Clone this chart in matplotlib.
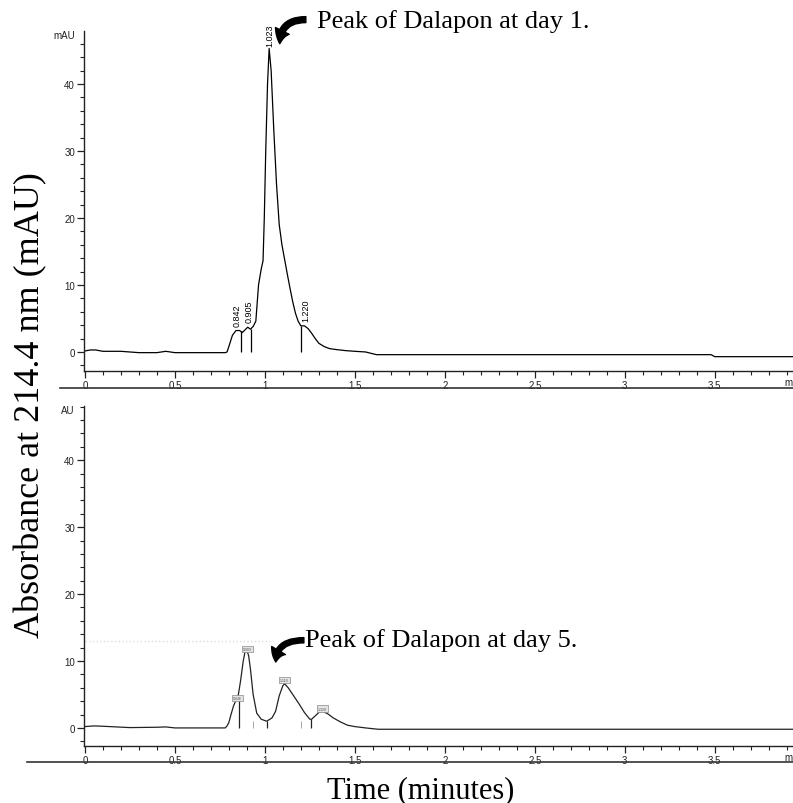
import matplotlib
matplotlib.use("Agg")
import matplotlib.pyplot as plt
from matplotlib.patches import FancyArrowPatch
from matplotlib.lines import Line2D
from matplotlib.ticker import MultipleLocator

# DATEN

# Tag 1 (oben)
zeit1 = [0.00, 0.03, 0.06, 0.10, 0.20, 0.30, 0.40, 0.45, 0.50, 0.60, 0.70, 0.78, 0.79,
         0.80, 0.82, 0.84, 0.86, 0.875, 0.89, 0.905, 0.92, 0.935, 0.95, 0.965, 0.98,
         0.99, 0.997, 1.005, 1.015, 1.024, 1.035, 1.05, 1.065, 1.08, 1.095, 1.11, 1.125,
         1.14, 1.155, 1.17, 1.185, 1.20, 1.22, 1.24, 1.26, 1.28, 1.30, 1.33, 1.36, 1.40,
         1.45, 1.50, 1.56, 1.62, 2.0, 2.5, 3.0, 3.48, 3.50, 3.94]
signal1 = [0.15, 0.3, 0.3, 0.1, 0.1, -0.1, -0.1, 0.1, -0.1, -0.1, -0.1, -0.1, 0.0,
           0.8, 2.5, 3.2, 3.2, 2.9, 3.3, 3.7, 3.4, 3.8, 4.6, 10.0, 12.4,
           13.6, 20.0, 30.0, 40.0, 45.3, 42.0, 33.0, 25.0, 19.0, 16.0, 13.8, 11.6,
           9.5, 7.5, 5.8, 4.6, 3.9, 3.9, 3.5, 2.8, 2.0, 1.3, 0.8, 0.5, 0.35,
           0.2, 0.1, 0.0, -0.4, -0.4, -0.4, -0.4, -0.4, -0.7, -0.7]
peaks1_t = [0.847, 0.914, 1.025, 1.228]
peaks1_v = [3.9, 4.5, 45.7, 4.6]
peaks1_lab = ["0.842", "0.905", "1.023", "1.220"]
drop1_t = [0.868, 0.925, 1.20]
drop1_v = [3.2, 3.5, 3.9]

# Tag 5 (unten)
zeit5 = [0.00, 0.05, 0.10, 0.25, 0.40, 0.45, 0.50, 0.70, 0.78, 0.79, 0.80, 0.81, 0.825,
         0.84, 0.85, 0.865, 0.88, 0.89, 0.90, 0.91, 0.92, 0.935, 0.955, 0.98, 1.01, 1.04,
         1.06, 1.08, 1.10, 1.11, 1.13, 1.16, 1.19, 1.22, 1.25, 1.26, 1.28, 1.30, 1.32,
         1.35, 1.38, 1.42, 1.46, 1.50, 1.56, 1.63, 2.0, 3.0, 3.94]
signal5 = [0.2, 0.3, 0.25, 0.05, 0.1, 0.15, 0.0, 0.0, 0.0, 0.3, 0.8, 1.8, 3.2,
           4.2, 4.5, 7.0, 10.0, 11.4, 11.6, 10.8, 8.8, 5.0, 2.2, 1.3, 1.0, 1.5,
           2.5, 4.8, 6.3, 6.6, 6.0, 4.8, 3.6, 2.3, 1.3, 1.3, 1.8, 2.3, 2.5,
           2.1, 1.5, 0.9, 0.4, 0.2, 0.0, -0.2, -0.2, -0.2, -0.2]
peaks5_t = [0.848, 0.904, 1.107, 1.32]
peaks5_v = [4.5, 11.8, 7.1, 2.9]
peaks5_lab = ["0.846", "0.903", "1.110", "1.320"]
drop5_t = [0.855, 1.012, 1.258]
drop5_v = [4.3, 1.0, 1.3]
drop5_faint_t = [0.935, 1.20]
drop5_faint_v = [1.0, 1.0]

xticks = [0, 0.5, 1, 1.5, 2, 2.5, 3, 3.5]
xticklabels = ["0", "0.5", "1", "1.5", "2", "2.5", "3", "3.5"]
yticks = [0, 10, 20, 30, 40]

serif = "Liberation Serif"
sans = "Liberation Sans"

fig = plt.figure(figsize=(7.93, 8.04), dpi=100)
ax1 = fig.add_axes([0.1059, 0.5373, 0.8941, 0.4229])
ax2 = fig.add_axes([0.1059, 0.0709, 0.8941, 0.4229])


def achse(ax, ylim, einheit):
    ax.set_xlim(-0.005, 3.935)
    ax.set_ylim(*ylim)
    for s in ["top", "right"]:
        ax.spines[s].set_visible(False)
    for s in ["left", "bottom"]:
        ax.spines[s].set_linewidth(1.0)
        ax.spines[s].set_color("#222222")
    ax.set_xticks(xticks)
    ax.set_xticklabels(xticklabels, fontfamily=sans)
    ax.set_yticks(yticks)
    ax.set_yticklabels([str(y) for y in yticks], fontfamily=sans)
    ax.xaxis.set_minor_locator(MultipleLocator(0.1))
    ax.yaxis.set_minor_locator(MultipleLocator(2))
    ax.tick_params(which="major", direction="out", length=5, width=0.9,
                   labelsize=7, pad=1.5, colors="#222222")
    ax.tick_params(which="minor", direction="out", length=3, width=0.8, colors="#222222")
    # Achsenbeschriftung "m(in)" am rechten Rand, wie im Original abgeschnitten
    ax.text(1.0, -0.033, "m", transform=ax.transAxes, fontsize=7,
            fontfamily=sans, ha="right", va="center", clip_on=False, color="#222222")
    ax.text(-0.055, ylim[1] - 0.6, einheit, fontsize=7, fontfamily=sans, ha="right",
            va="center", clip_on=False, color="#222222")


achse(ax1, (-2.84, 47.9), "mAU")
achse(ax2, (-2.7, 48.1), "AU")

# Tag 1
ax1.plot(zeit1, signal1, color="black", lw=0.9)
ax1.vlines(drop1_t, 0, drop1_v, color="black", lw=0.9)
for t, v, lab in zip(peaks1_t, peaks1_v, peaks1_lab):
    ax1.text(t, v, lab, rotation=90, fontsize=6.5, fontfamily=sans, ha="center",
             va="bottom", clip_on=False)

# Tag 5
ax2.plot([0.0, 1.03], [13.0, 13.0], color="#dcdcdc", lw=1.0, ls=":")
ax2.plot(zeit5, signal5, color="#222222", lw=0.9)
ax2.vlines(drop5_t, 0, drop5_v, color="#222222", lw=0.9)
ax2.vlines(drop5_faint_t, 0, drop5_faint_v, color="#aaaaaa", lw=0.7)
for t, v, lab in zip(peaks5_t, peaks5_v, peaks5_lab):
    ax2.text(t, v, lab, fontsize=2.5, fontfamily=sans, ha="center", va="center",
             color="#555555",
             bbox=dict(boxstyle="square,pad=0.3", fc="#e4e4e4", ec="#888888", lw=0.5))

# Pfeile und Beschriftungen
pfeil1 = FancyArrowPatch((1.228, 49.6), (1.083, 46.0),
                         arrowstyle="simple,head_length=9.4,head_width=11,tail_width=4.3",
                         connectionstyle="angle3,angleA=0,angleB=90",
                         mutation_scale=1, color="black", shrinkA=0, shrinkB=0, clip_on=False)
ax1.add_patch(pfeil1)
ax1.text(1.292, 48.5, "Peak of Dalapon at day 1.", fontsize=19, fontfamily=serif,
         ha="left", va="baseline", clip_on=False)

pfeil5 = FancyArrowPatch((1.217, 13.1), (1.061, 9.85),
                         arrowstyle="simple,head_length=8.5,head_width=11.5,tail_width=3.8",
                         connectionstyle="angle3,angleA=0,angleB=90",
                         mutation_scale=1, color="black", shrinkA=0, shrinkB=0, clip_on=False)
ax2.add_patch(pfeil5)
ax2.text(1.222, 12.2, "Peak of Dalapon at day 5.", fontsize=19, fontfamily=serif,
         ha="left", va="baseline", clip_on=False)

# Trennlinien unter den Achsen
fig.add_artist(Line2D([60 / 793, 1], [0.5162, 0.5162], transform=fig.transFigure,
                      color="#333333", lw=1.2))
fig.add_artist(Line2D([27 / 793, 1], [0.051, 0.051], transform=fig.transFigure,
                      color="#333333", lw=1.2))

fig.text(0.53, 0.0075, "Time (minutes)", fontsize=22, fontfamily=serif,
         ha="center", va="baseline")
fig.text(0.039, 0.496, "Absorbance at 214.4 nm (mAU)", fontsize=26, fontfamily=serif,
         rotation=90, ha="center", va="center")

fig.savefig("out.png", dpi=100)
